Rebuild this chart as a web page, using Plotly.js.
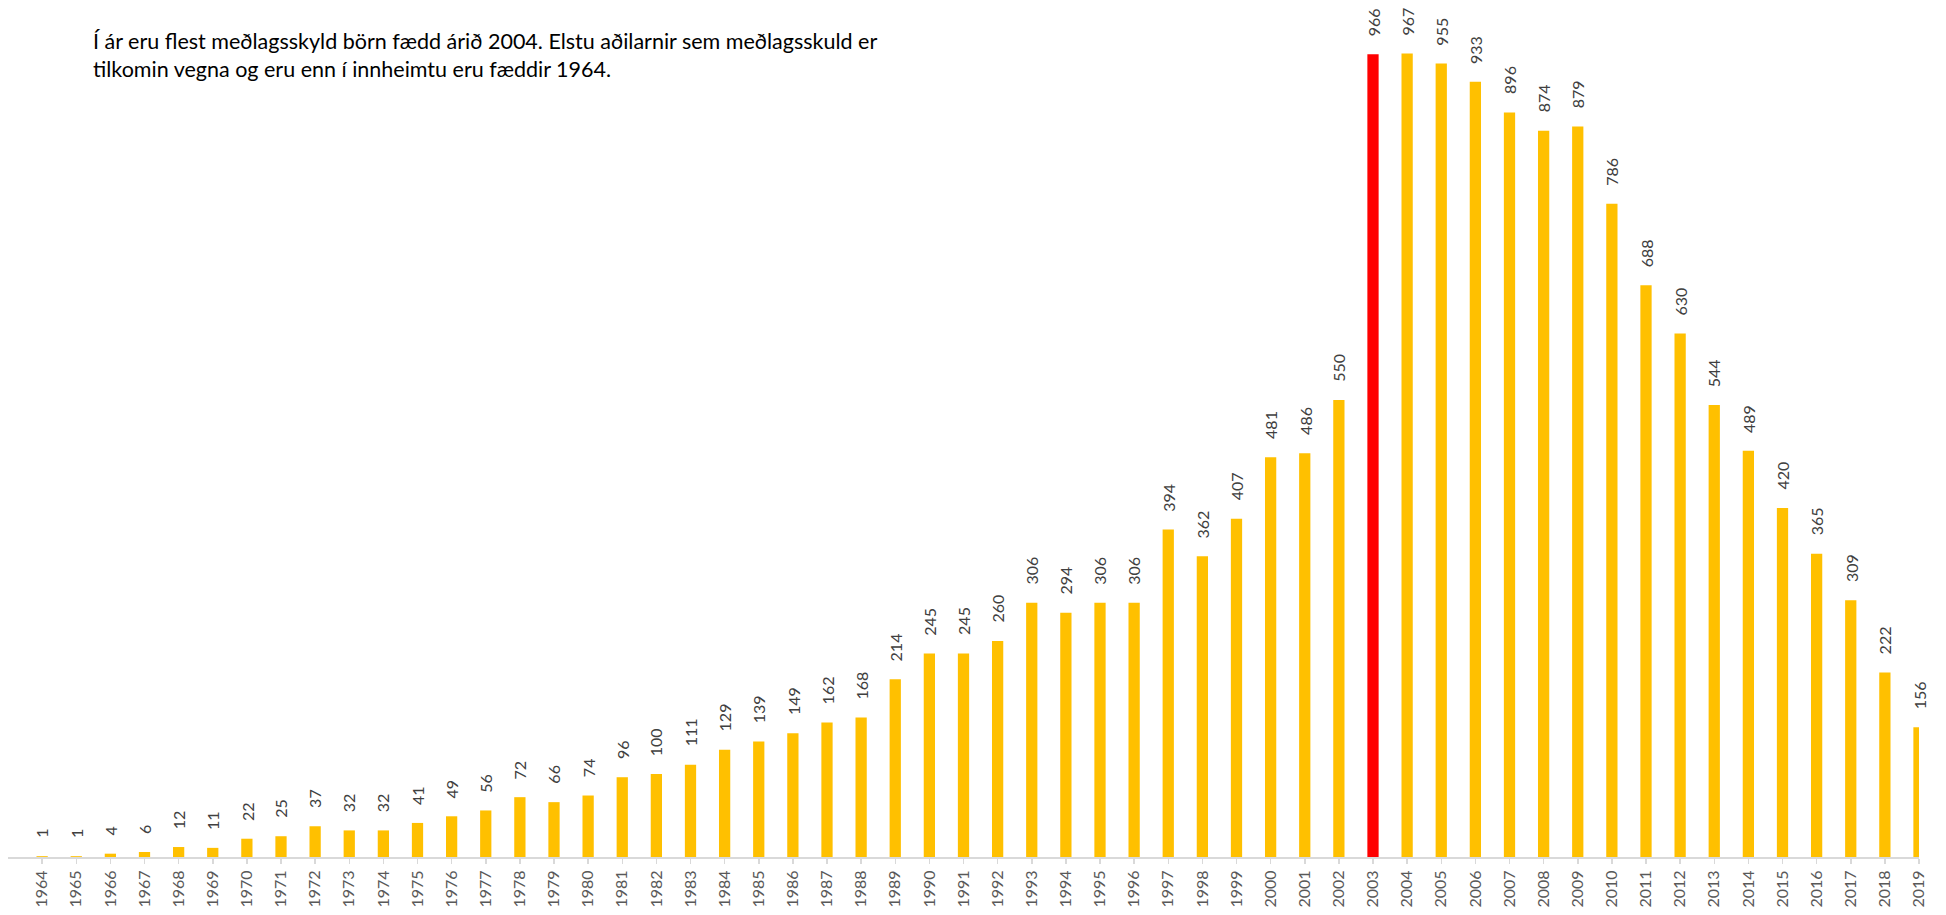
<!DOCTYPE html>
<html>
<head>
<meta charset="utf-8">
<script src="https://cdn.plot.ly/plotly-3.0.1.min.js"></script>
<style>html,body{margin:0;padding:0;background:#fff;}#chart{width:1946px;height:915px;}</style>
</head>
<body>
<div id="chart"></div>
<script>
const years = ["1964","1965","1966","1967","1968","1969","1970","1971","1972","1973",
  "1974","1975","1976","1977","1978","1979","1980","1981","1982","1983",
  "1984","1985","1986","1987","1988","1989","1990","1991","1992","1993",
  "1994","1995","1996","1997","1998","1999","2000","2001","2002","2003",
  "2004","2005","2006","2007","2008","2009","2010","2011","2012","2013",
  "2014","2015","2016","2017","2018","2019"];
const counts = [1,1,4,6,12,11,22,25,37,32,
  32,41,49,56,72,66,74,96,100,111,
  129,139,149,162,168,214,245,245,260,306,
  294,306,306,394,362,407,481,486,550,966,
  967,955,933,896,874,879,786,688,630,544,
  489,420,365,309,222,156];
const highlightYear = "2003";
const titleLines = ["Í ár eru flest meðlagsskyld börn fædd árið 2004. Elstu aðilarnir sem meðlagsskuld er",
  "tilkomin vegna og eru enn í innheimtu eru fæddir 1964."];

const colors = years.map(y => y === highlightYear ? "#FF0000" : "#FFC000");

const trace = {
  type: "bar",
  x: years,
  y: counts,
  marker: {color: colors, line: {width: 0}},
  width: 0.33,
  hoverinfo: "x+y"
};

// category axis: annotations use category serial index
const labelAnns = years.map((y, i) => ({
  x: i, y: counts[i], xref: "x", yref: "y",
  text: String(counts[i]),
  showarrow: false,
  textangle: -90,
  xanchor: "center", yanchor: "bottom",
  yshift: 16,
  font: {family: "Lato", size: 16, color: "#404040"}
}));

const titleAnn = {
  xref: "paper", yref: "paper",
  x: 0.0435, y: 1.0,
  xanchor: "left", yanchor: "top",
  align: "left",
  showarrow: false,
  text: titleLines.join("<br>"),
  font: {family: "Lato", size: 21.5, color: "#000000"}
};

const layout = {
  width: 1946, height: 915,
  margin: {l: 8, r: 27, t: 26, b: 58},
  paper_bgcolor: "#ffffff",
  plot_bgcolor: "#ffffff",
  showlegend: false,
  xaxis: {
    type: "category",
    range: [-1, 55],
    tickangle: -90,
    ticks: "outside",
    ticklen: 5,
    tickcolor: "#d9d9d9",
    tickwidth: 1.5,
    showline: true,
    linecolor: "#d9d9d9",
    linewidth: 2,
    showgrid: false,
    tickfont: {family: "Lato", size: 16, color: "#595959"}
  },
  yaxis: {
    range: [0, 1000],
    showticklabels: false,
    showgrid: false,
    zeroline: false,
    showline: false,
    ticks: ""
  },
  annotations: [titleAnn].concat(labelAnns)
};

Plotly.newPlot("chart", [trace], layout, {displayModeBar: false, staticPlot: true});
</script>
</body>
</html>
